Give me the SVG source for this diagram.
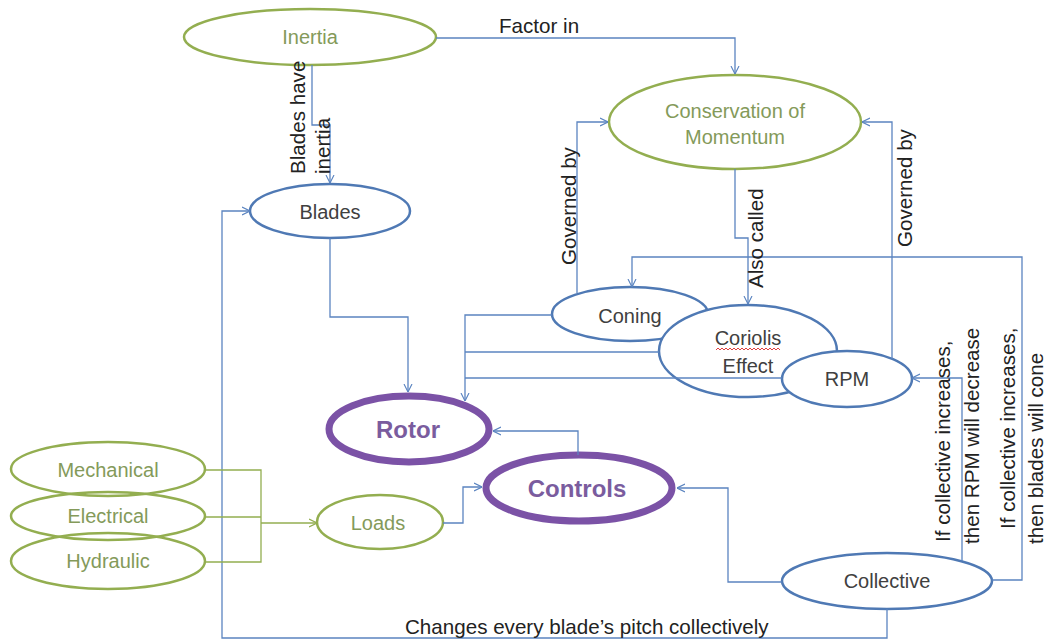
<svg xmlns="http://www.w3.org/2000/svg" width="1048" height="643" viewBox="0 0 1048 643">
<style>
text{font-family:"Liberation Sans",Arial,sans-serif;font-size:20px}
.lbl{fill:#222;font-size:20.6px}
.gtxt{fill:#849A5A;text-anchor:middle}
.btxt{fill:#404040;text-anchor:middle}
.ptxt{fill:#7A5C9E;text-anchor:middle;font-weight:bold;font-size:24px}
.gn{fill:#fff;stroke:#93AE50;stroke-width:2.5}
.gno{fill:none;stroke:#93AE50;stroke-width:2.5}
.bn{fill:#fff;stroke:#4F79B4;stroke-width:2.5}
.pn{fill:#fff;stroke:#7B52A6;stroke-width:7}
.c{fill:none;stroke:#5B84C0;stroke-width:1.3}
.cg{fill:none;stroke:#93AE50;stroke-width:1.3}
</style>
<defs>
<marker id="ab" viewBox="0 0 10 10" refX="10" refY="5" markerWidth="8" markerHeight="10" markerUnits="userSpaceOnUse" orient="auto">
<path d="M0,0 L10,5 L0,10" fill="none" stroke="#5B84C0" stroke-width="1.4"/>
</marker>
<marker id="ag" viewBox="0 0 10 10" refX="10" refY="5" markerWidth="8" markerHeight="10" markerUnits="userSpaceOnUse" orient="auto">
<path d="M0,0 L10,5 L0,10" fill="none" stroke="#93AE50" stroke-width="1.6"/>
</marker>
</defs>
<rect width="1048" height="643" fill="#fff"/>

<g id="inertia"><ellipse class="gn" cx="310" cy="37" rx="126" ry="28"/><text class="gtxt" x="310" y="44">Inertia</text></g>
<g id="conservation"><ellipse class="gn" cx="735" cy="122" rx="126" ry="47"/><text class="gtxt" x="735" y="118">Conservation of</text><text class="gtxt" x="735" y="144">Momentum</text></g>
<g id="blades"><ellipse class="bn" cx="330" cy="211" rx="80" ry="27"/><text class="btxt" x="330" y="219">Blades</text></g>
<g id="coning"><ellipse class="bn" cx="630" cy="314" rx="78" ry="27"/><text class="btxt" x="630" y="323">Coning</text></g>
<g id="coriolis"><ellipse class="bn" cx="748" cy="351" rx="89" ry="46"/><text class="btxt" x="748" y="345">Coriolis</text><path d="M716,350 l2,-2 l2,2 l2,-2 l2,2 l2,-2 l2,2 l2,-2 l2,2 l2,-2 l2,2 l2,-2 l2,2 l2,-2 l2,2 l2,-2 l2,2 l2,-2 l2,2 l2,-2 l2,2 l2,-2 l2,2 l2,-2 l2,2 l2,-2 l2,2 l2,-2 l2,2 l2,-2 l2,2 l2,-2 l2,2" fill="none" stroke="#E04040" stroke-width="1"/><text class="btxt" x="748" y="373">Effect</text></g>
<g id="rpm"><ellipse class="bn" cx="847" cy="379" rx="65" ry="28"/><text class="btxt" x="847" y="386">RPM</text></g>
<g id="rotor"><ellipse class="pn" cx="409" cy="429" rx="80" ry="33"/><text class="ptxt" x="408" y="438">Rotor</text></g>
<g id="controls"><ellipse class="pn" cx="579" cy="488" rx="93" ry="33"/><text class="ptxt" x="577" y="497">Controls</text></g>
<g id="mechanical"><ellipse class="gno" cx="108" cy="469" rx="97" ry="27"/><text class="gtxt" x="108" y="477">Mechanical</text></g>
<g id="electrical"><ellipse class="gno" cx="108" cy="516" rx="97" ry="24"/><text class="gtxt" x="108" y="523">Electrical</text></g>
<g id="hydraulic"><ellipse class="gno" cx="108" cy="561" rx="97" ry="28"/><text class="gtxt" x="108" y="568">Hydraulic</text></g>
<g id="loads"><ellipse class="gn" cx="380" cy="522" rx="63" ry="27"/><text class="gtxt" x="378" y="530">Loads</text></g>
<g id="collective"><ellipse class="bn" cx="887" cy="581" rx="105" ry="28"/><text class="btxt" x="887" y="588">Collective</text></g>

<g id="connectors">
<path class="c" d="M436,38 H735 V74" marker-end="url(#ab)"/>
<path class="c" d="M312,65 V125 H330 V183" marker-end="url(#ab)"/>
<path class="c" d="M577,293 V122 H608" marker-end="url(#ab)"/>
<path class="c" d="M892,359 V122 H862" marker-end="url(#ab)"/>
<path class="c" d="M735,169 V238 H748 V304" marker-end="url(#ab)"/>
<path class="c" d="M992,580 H1022 V257 H632 V287" marker-end="url(#ab)"/>
<path class="c" d="M330,238 V317 H408 V392" marker-end="url(#ab)"/>
<path class="c" d="M552,315 H465 V401" marker-end="url(#ab)"/>
<path class="c" d="M659,352 H465"/>
<path class="c" d="M782,378 H465"/>
<path class="c" d="M578,455 V431 H493" marker-end="url(#ab)"/>
<path class="c" d="M443,523 H463 V487 H482" marker-end="url(#ab)"/>
<path class="c" d="M782,582 H728 V488 H677" marker-end="url(#ab)"/>
<path class="c" d="M962,561 V378 H912" marker-end="url(#ab)"/>
<path class="c" d="M887,609 V638 H222 V211 H250" marker-end="url(#ab)"/>
<path class="cg" d="M205,470 H261 V562 H205 M205,517 H261"/>
<path class="cg" d="M261,523 H317" marker-end="url(#ag)"/>
</g>

<g id="labels">
<text class="lbl" x="499" y="33">Factor in</text>
<text class="lbl" transform="translate(305,174) rotate(-90)">Blades have</text>
<text class="lbl" transform="translate(330,174) rotate(-90)">inertia</text>
<text class="lbl" transform="translate(576,265) rotate(-90)">Governed by</text>
<text class="lbl" transform="translate(763,288) rotate(-90)">Also called</text>
<text class="lbl" transform="translate(912,247) rotate(-90)">Governed by</text>
<text class="lbl" transform="translate(950,542) rotate(-90)">If collective increases,</text>
<text class="lbl" transform="translate(979,544) rotate(-90)">then RPM will decrease</text>
<text class="lbl" transform="translate(1015,529) rotate(-90)">If collective increases,</text>
<text class="lbl" transform="translate(1043,544) rotate(-90)">then blades will cone</text>
<text class="lbl" x="405" y="634">Changes every blade’s pitch collectively</text>
</g>
</svg>
